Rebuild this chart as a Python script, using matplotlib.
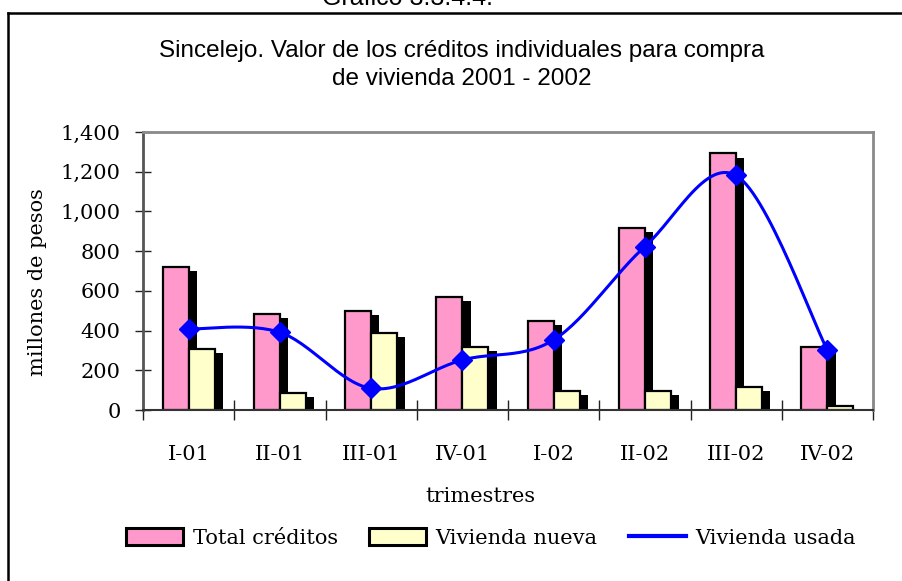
import numpy as np
import matplotlib
matplotlib.use("Agg")
import matplotlib.pyplot as plt
import matplotlib.patheffects as pe
from matplotlib.lines import Line2D
from matplotlib.patches import Patch
from matplotlib.ticker import FuncFormatter

# datos (millones de pesos)
trimestres = ["I-01", "II-01", "III-01", "IV-01", "I-02", "II-02", "III-02", "IV-02"]
total_creditos = [722, 482, 500, 571, 450, 919, 1292, 319]
vivienda_nueva = [306, 87, 390, 316, 97, 97, 117, 20]
vivienda_usada = [408, 391, 109, 252, 353, 823, 1181, 302]

ROSA = "#FF99CC"
CREMA = "#FFFFCC"
AZUL = "#0000FF"
SERIF = ["DejaVu Serif"]
SANS = ["Liberation Sans", "DejaVu Sans"]


def curva_suave(xs, ys, n=30):
    # curva tipo Excel (bezier con tangentes catmull-rom)
    p = np.column_stack([xs, ys]).astype(float)
    p = np.vstack([p[0], p, p[-1]])
    out = []
    t = np.linspace(0, 1, n)[:, None]
    for i in range(1, len(p) - 2):
        p0, p1, p2, p3 = p[i - 1], p[i], p[i + 1], p[i + 2]
        c1 = p1 + (p2 - p0) / 6
        c2 = p2 - (p3 - p1) / 6
        seg = ((1 - t) ** 3) * p1 + 3 * ((1 - t) ** 2) * t * c1 + 3 * (1 - t) * t ** 2 * c2 + t ** 3 * p2
        out.append(seg)
    out = np.vstack(out)
    return out[:, 0], out[:, 1]


fig = plt.figure(figsize=(9.02, 5.81), dpi=100)
ax = fig.add_axes([143 / 902, 1 - 410 / 581, 730 / 902, 278 / 581])

x = np.arange(len(trimestres))
w = 0.285
sombra = [pe.SimplePatchShadow(offset=(6, -3), shadow_rgbFace="black", alpha=1.0), pe.Normal()]

b1 = ax.bar(x - w / 2, total_creditos, width=w, color=ROSA, edgecolor="black", linewidth=1.6, zorder=2)
b2 = ax.bar(x + w / 2, vivienda_nueva, width=w, color=CREMA, edgecolor="black", linewidth=1.6, zorder=2)
for r in list(b1) + list(b2):
    r.set_path_effects(sombra)

xs, ys = curva_suave(x, vivienda_usada)
ax.plot(xs, ys, color=AZUL, lw=2.2, zorder=3)
ax.plot(x, vivienda_usada, ls="none", marker="D", ms=10, color=AZUL, zorder=4)

ax.set_xlim(-0.5, len(trimestres) - 0.5)
ax.set_ylim(0, 1400)
ax.set_yticks(np.arange(0, 1401, 200))
ax.yaxis.set_major_formatter(FuncFormatter(lambda v, p: f"{int(v):,}"))
ax.set_xticks(x)
ax.set_xticklabels(trimestres)
ax.set_xticks(np.arange(-0.5, len(trimestres)), minor=True)

ax.tick_params(axis="y", direction="inout", length=12, width=1, color="#222222", pad=10, labelsize=15)
ax.tick_params(axis="x", which="major", length=0, pad=25, labelsize=15)
ax.tick_params(axis="x", which="minor", direction="inout", length=14, width=1, color="#222222")
for lab in ax.get_xticklabels() + ax.get_yticklabels():
    lab.set_family(SERIF)

ax.spines["top"].set_color("#8a8a8a")
ax.spines["right"].set_color("#8a8a8a")
ax.spines["top"].set_linewidth(2)
ax.spines["right"].set_linewidth(2)
ax.spines["left"].set_color("#555555")
ax.spines["left"].set_linewidth(2)
ax.spines["bottom"].set_color("#333333")
ax.spines["bottom"].set_linewidth(1.5)

# textos
fig.text(462 / 902, 1 - 85 / 581, "Sincelejo. Valor de los créditos individuales para compra\nde vivienda 2001 - 2002",
         ha="center", va="baseline", fontsize=17.5, family=SANS, linespacing=1.35)
fig.text(408 / 902, 1 - 5 / 581, "Gráfico 3.3.4.4.", ha="center", va="baseline", fontsize=18, family=SANS)
fig.text(38 / 902, 1 - 282 / 581, "millones de pesos", rotation=90, ha="center", va="center",
         fontsize=15, family=SERIF)
fig.text(480 / 902, 1 - 497 / 581, "trimestres", ha="center", va="center", fontsize=15, family=SERIF)

handles = [Patch(facecolor=ROSA, edgecolor="black", linewidth=2.2),
           Patch(facecolor=CREMA, edgecolor="black", linewidth=2.2),
           Line2D([], [], color=AZUL, lw=3)]
leg = fig.legend(handles, ["Total créditos", "Vivienda nueva", "Vivienda usada"],
                 loc="center", bbox_to_anchor=(491 / 902, 1 - 538 / 581), ncol=3, frameon=False,
                 prop={"family": SERIF, "size": 15}, handlelength=2.75, handleheight=0.85,
                 handletextpad=0.45, columnspacing=1.5)

# marco exterior (abierto a la derecha y abajo)
fig.add_artist(Line2D([8 / 902, 1.0], [1 - 13 / 581, 1 - 13 / 581], color="black", lw=1.8,
                      transform=fig.transFigure))
fig.add_artist(Line2D([8 / 902, 8 / 902], [1 - 13 / 581, 0.0], color="black", lw=1.8,
                      transform=fig.transFigure))

fig.savefig("out.png", dpi=100)
